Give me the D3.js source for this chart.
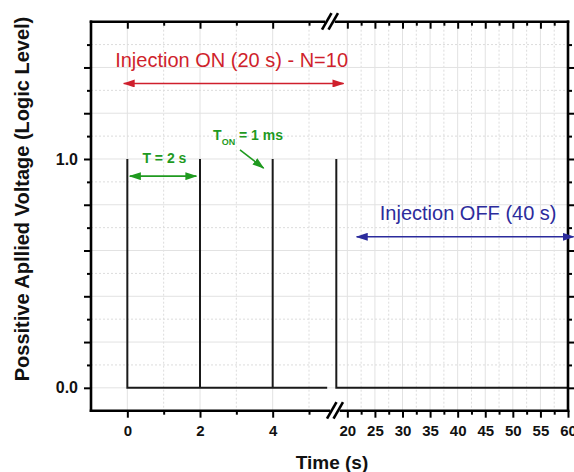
<!DOCTYPE html>
<html>
<head>
<meta charset="utf-8">
<script src="https://cdn.jsdelivr.net/npm/d3@7"></script>
<style>
body{margin:0;background:#fff;}
svg{display:block;font-family:Arial,"Liberation Sans",sans-serif;}
</style>
</head>
<body>
<svg id="chart" width="574" height="472"></svg>
<script>
// visible part of the pulse train (N=10, every 2 s) - the middle sits behind the axis break
var onTime = [0, 0, 2, 2, 2, 4, 4, 4, 5.5];
var onLevel = [1, 0, 0, 1, 0, 0, 1, 0, 0];
var offTime = [18, 18, 60];
var offLevel = [1, 0, 0];

var xMajorLeft = [0, 2, 4];
var xMinorLeft = [1, 3, 5];
var xMajorRight = [20, 25, 30, 35, 40, 45, 50, 55, 60];
var xMinorRight = [22.5, 27.5, 32.5, 37.5, 42.5, 47.5, 52.5, 57.5];
var yMajor = [0, 0.2, 0.4, 0.6, 0.8, 1.0, 1.2, 1.4];
var yMinor = [0.1, 0.3, 0.5, 0.7, 0.9, 1.1, 1.3, 1.5];
var yLabels = [0, 1];

var svg = d3.select("#chart");
var L = 91, R = 568, T = 21.7, B = 410.7;

var xL = d3.scaleLinear().domain([-1, 5.55]).range([L, 329]);
var xR = d3.scaleLinear().domain([17.4, 60]).range([333, R]);
var y = d3.scaleLinear().domain([-0.1, 1.6]).range([B, T]);

var red = "#cf1f2c", green = "#1f9a1f", blue = "#2b2b9c";

// arrow heads
var defs = svg.append("defs");
[["r", red], ["g", green], ["b", blue]].forEach(function(m){
    defs.append("marker")
        .attr("id", "arr_" + m[0])
        .attr("markerUnits", "userSpaceOnUse")
        .attr("markerWidth", 12).attr("markerHeight", 8)
        .attr("refX", 11).attr("refY", 4)
        .attr("orient", "auto-start-reverse")
        .append("path").attr("d", "M0,0 L12,4 L0,8 Z").attr("fill", m[1]);
});
defs.append("clipPath").attr("id", "plotclip")
    .append("rect").attr("x", L).attr("y", T).attr("width", R - L).attr("height", B - T);

// grid
var grid = svg.append("g");
function vgrid(vals, sc, dashed){
    grid.selectAll(null).data(vals).join("line")
        .attr("x1", sc).attr("x2", sc).attr("y1", T).attr("y2", B)
        .attr("stroke", dashed ? "#dcdcdc" : "#e2e2e2").attr("stroke-width", 1)
        .attr("stroke-dasharray", dashed ? "2,2" : null);
}
vgrid(xMajorLeft, xL, false);
vgrid(xMinorLeft, xL, true);
vgrid(xMajorRight.slice(0, -1), xR, false);
vgrid(xMinorRight, xR, true);
grid.selectAll(null).data(yMajor).join("line")
    .attr("x1", L).attr("x2", R).attr("y1", y).attr("y2", y)
    .attr("stroke", "#e2e2e2");
grid.selectAll(null).data(yMinor).join("line")
    .attr("x1", L).attr("x2", R).attr("y1", y).attr("y2", y)
    .attr("stroke", "#dcdcdc").attr("stroke-dasharray", "2,2");

// signal
var lineL = d3.line().x(function(d){ return xL(d[0]); }).y(function(d){ return y(d[1]); });
var lineR = d3.line().x(function(d){ return xR(d[0]); }).y(function(d){ return y(d[1]); });
svg.append("path").attr("d", lineL(d3.zip(onTime, onLevel)))
    .attr("fill", "none").attr("stroke", "#1a1a1a").attr("stroke-width", 2)
    .attr("clip-path", "url(#plotclip)");
svg.append("path").attr("d", lineR(d3.zip(offTime, offLevel)))
    .attr("fill", "none").attr("stroke", "#1a1a1a").attr("stroke-width", 2)
    .attr("clip-path", "url(#plotclip)");

// axes (ticks only, lines drawn by hand because of the break)
function styleAxis(g, size){
    g.attr("font-family", null).attr("font-size", size).attr("font-weight", "bold");
    g.select(".domain").remove();
    g.selectAll(".tick line").attr("stroke", "#000").attr("stroke-width", 2);
    g.selectAll(".tick text").attr("fill", "#111");
}
var fmtX = d3.format("d");
svg.append("g").attr("transform", "translate(0," + B + ")")
    .call(d3.axisBottom(xL).tickValues(xMajorLeft).tickSize(7).tickPadding(8).tickFormat(fmtX))
    .call(styleAxis, 15);
svg.append("g").attr("transform", "translate(0," + B + ")")
    .call(d3.axisBottom(xL).tickValues(xMinorLeft).tickSize(4).tickFormat(""))
    .call(styleAxis, 15);
svg.append("g").attr("transform", "translate(0," + B + ")")
    .call(d3.axisBottom(xR).tickValues(xMajorRight).tickSize(7).tickPadding(8).tickFormat(fmtX))
    .call(styleAxis, 15);
svg.append("g").attr("transform", "translate(0," + B + ")")
    .call(d3.axisBottom(xR).tickValues(xMinorRight).tickSize(4).tickFormat(""))
    .call(styleAxis, 15);
// top mirror ticks point inward
svg.append("g").attr("transform", "translate(0," + T + ")")
    .call(d3.axisBottom(xL).tickValues(xMajorLeft).tickSize(7).tickFormat(""))
    .call(styleAxis, 15);
svg.append("g").attr("transform", "translate(0," + T + ")")
    .call(d3.axisBottom(xL).tickValues(xMinorLeft).tickSize(4).tickFormat(""))
    .call(styleAxis, 15);
svg.append("g").attr("transform", "translate(0," + T + ")")
    .call(d3.axisBottom(xR).tickValues(xMajorRight.slice(0, -1)).tickSize(7).tickFormat(""))
    .call(styleAxis, 15);
svg.append("g").attr("transform", "translate(0," + T + ")")
    .call(d3.axisBottom(xR).tickValues(xMinorRight).tickSize(4).tickFormat(""))
    .call(styleAxis, 15);

var yl = svg.append("g").attr("transform", "translate(" + L + ",0)")
    .call(d3.axisLeft(y).tickValues(yMajor).tickSize(7).tickPadding(6)
        .tickFormat(function(d){ return yLabels.indexOf(d) >= 0 ? d3.format(".1f")(d) : ""; }))
    .call(styleAxis, 16);
svg.append("g").attr("transform", "translate(" + L + ",0)")
    .call(d3.axisLeft(y).tickValues(yMinor).tickSize(4).tickFormat(""))
    .call(styleAxis, 16);
svg.append("g").attr("transform", "translate(" + R + ",0)")
    .call(d3.axisLeft(y).tickValues(yMajor).tickSize(-7).tickFormat(""))
    .call(styleAxis, 16);
svg.append("g").attr("transform", "translate(" + R + ",0)")
    .call(d3.axisLeft(y).tickValues(yMinor).tickSize(-4).tickFormat(""))
    .call(styleAxis, 16);

// frame with the break
var frame = svg.append("g").attr("stroke", "#000").attr("stroke-width", 2.6)
    .attr("stroke-linecap", "square").attr("fill", "none");
var ct = 330, cb = 335;
frame.append("line").attr("x1", L).attr("x2", L).attr("y1", T).attr("y2", B);
frame.append("line").attr("x1", R).attr("x2", R).attr("y1", T).attr("y2", B);
frame.append("line").attr("x1", L).attr("x2", ct - 6).attr("y1", T).attr("y2", T);
frame.append("line").attr("x1", ct + 6).attr("x2", R).attr("y1", T).attr("y2", T);
frame.append("line").attr("x1", L).attr("x2", cb - 6).attr("y1", B).attr("y2", B);
frame.append("line").attr("x1", cb + 6).attr("x2", R).attr("y1", B).attr("y2", B);
[[ct, T], [cb, B]].forEach(function(p){
    frame.append("line").attr("stroke-linecap", "butt")
        .attr("x1", p[0] - 8).attr("y1", p[1] + 8).attr("x2", p[0] + 1.5).attr("y2", p[1] - 8.5);
    frame.append("line").attr("stroke-linecap", "butt")
        .attr("x1", p[0] - 1.5).attr("y1", p[1] + 8).attr("x2", p[0] + 8).attr("y2", p[1] - 8.5);
});

// axis titles
svg.append("text").attr("x", 332).attr("y", 469)
    .attr("text-anchor", "middle").attr("font-size", 19).attr("font-weight", "bold")
    .attr("fill", "#111").text("Time (s)");
svg.append("text").attr("transform", "translate(28.5,199) rotate(-90)")
    .attr("text-anchor", "middle").attr("font-size", 20).attr("font-weight", "bold")
    .attr("fill", "#111").text("Possitive Apllied Voltage (Logic Level)");

// annotations
svg.append("text").attr("x", xL(2.87)).attr("y", y(1.403))
    .attr("text-anchor", "middle").attr("font-size", 20).attr("fill", red)
    .text("Injection ON (20 s) - N=10");
svg.append("line").attr("x1", xL(-0.1)).attr("x2", xR(19.3)).attr("y1", y(1.33)).attr("y2", y(1.33))
    .attr("stroke", red).attr("stroke-width", 1.6)
    .attr("marker-start", "url(#arr_r)").attr("marker-end", "url(#arr_r)");

svg.append("text").attr("x", xL(1.02)).attr("y", y(0.981))
    .attr("text-anchor", "middle").attr("font-size", 14).attr("font-weight", "bold").attr("fill", green)
    .text("T = 2 s");
svg.append("line").attr("x1", xL(0.07)).attr("x2", xL(1.9)).attr("y1", y(0.925)).attr("y2", y(0.925))
    .attr("stroke", green).attr("stroke-width", 1.6)
    .attr("marker-start", "url(#arr_g)").attr("marker-end", "url(#arr_g)");

var ton = svg.append("text").attr("x", xL(2.36)).attr("y", y(1.083))
    .attr("font-size", 14).attr("font-weight", "bold").attr("fill", green);
ton.append("tspan").text("T");
ton.append("tspan").attr("font-size", 9).attr("dy", 5).text("ON");
ton.append("tspan").attr("dy", -5).text(" = 1 ms");
svg.append("line").attr("x1", xL(3.1)).attr("y1", y(1.04)).attr("x2", xL(3.75)).attr("y2", y(0.96))
    .attr("stroke", green).attr("stroke-width", 1.6).attr("marker-end", "url(#arr_g)");

svg.append("text").attr("x", xR(41.9)).attr("y", y(0.733))
    .attr("text-anchor", "middle").attr("font-size", 20).attr("fill", blue)
    .text("Injection OFF (40 s)");
svg.append("line").attr("x1", xR(21.7)).attr("x2", xR(61)).attr("y1", y(0.66)).attr("y2", y(0.66))
    .attr("stroke", blue).attr("stroke-width", 1.6)
    .attr("marker-start", "url(#arr_b)").attr("marker-end", "url(#arr_b)");
</script>
</body>
</html>
